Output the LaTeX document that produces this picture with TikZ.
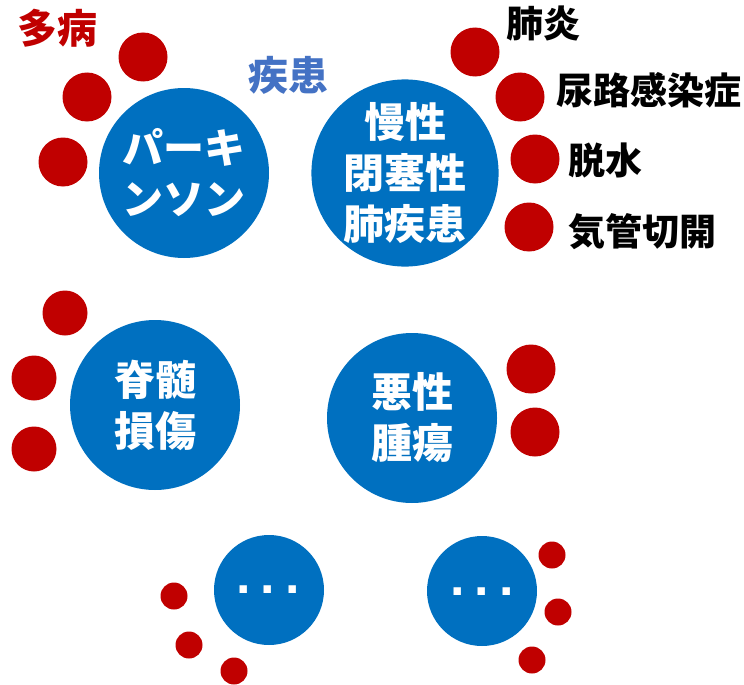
\documentclass[tikz,border=0pt]{standalone}
\usepackage{fontspec}
\newfontfamily\jp{Noto Sans CJK JP}
\newfontfamily\lat{Liberation Sans}
\definecolor{cblue}{HTML}{0070C0}
\definecolor{cred}{HTML}{C00000}
\definecolor{clab}{HTML}{4472C4}
\tikzset{
  big/.style={circle, fill=cblue, draw=none, minimum size=170pt, inner sep=0pt, text=white, align=center, font=\jp\bfseries\fontsize{41}{51}\selectfont},
  small/.style={circle, fill=cblue, draw=none, minimum size=110pt, inner sep=0pt},
  ell/.style={inner sep=0pt, text=white, font=\lat\bfseries\fontsize{52}{52}\selectfont},
  dotL/.style={circle, fill=cred, draw=none, minimum size=49pt, inner sep=0pt},
  dotM/.style={circle, fill=cred, draw=none, minimum size=45pt, inner sep=0pt},
  dotS/.style={circle, fill=cred, draw=none, minimum size=27pt, inner sep=0pt},
  lab/.style={anchor=west, inner sep=0pt, text=black, font=\jp\bfseries\fontsize{37}{37}\selectfont},
  head/.style={inner sep=0pt, font=\jp\bfseries\fontsize{40}{40}\selectfont}
}
\begin{document}
\begin{tikzpicture}[x=1pt, y=-1pt]
\useasboundingbox (0,0) rectangle (744,685);
% header labels
\node[head, text=cred] (tamul) at (57,28) {多病};
\node[head, text=clab] (shikkan) at (288,75) {疾患};
% big circles
\node[big] (pk) at (184,173) {パーキ\\ンソン};
\node[big] (copd) at (405,173) {慢性\\閉塞性\\肺疾患};
\node[big] (sci) at (155,405) {脊髄\\損傷};
\node[big] (tumor) at (412,418) {悪性\\腫瘍};
% small circles
\node[small] (etc1) at (269,590) {};
\node[small] (etc2) at (482,591) {};
\node[ell] (d1) at (268,590) {.\hspace{10pt}.\hspace{10pt}.};
\node[ell] (d2) at (482,592) {.\hspace{10pt}.\hspace{10pt}.};
% Parkinson dots
\node[dotL] (p1) at (143,57) {};
\node[dotL] (p2) at (87,97) {};
\node[dotL] (p3) at (63,162) {};
% COPD dots
\node[dotL] (c1) at (475,52) {};
\node[dotL] (c2) at (520,97) {};
\node[dotL] (c3) at (535,159) {};
\node[dotL] (c4) at (529,227) {};
\node[lab] (l1) at (506,24) {肺炎};
\node[lab] (l2) at (556,90) {尿路感染症};
\node[lab] (l3) at (568,160) {脱水};
\node[lab] (l4) at (568,232) {気管切開};
% spinal dots
\node[dotM] (s1) at (65,313) {};
\node[dotM] (s2) at (34,378) {};
\node[dotM] (s3) at (34,449) {};
% tumor dots
\node[dotL] (t1) at (531,369) {};
\node[dotL] (t2) at (535,432) {};
% small dots
\node[dotS] (e1) at (174,596) {};
\node[dotS] (e2) at (189,645) {};
\node[dotS] (e3) at (234,671) {};
\node[dotS] (f1) at (552,555) {};
\node[dotS] (f2) at (558,612) {};
\node[dotS] (f3) at (532,660) {};
\end{tikzpicture}
\end{document}
